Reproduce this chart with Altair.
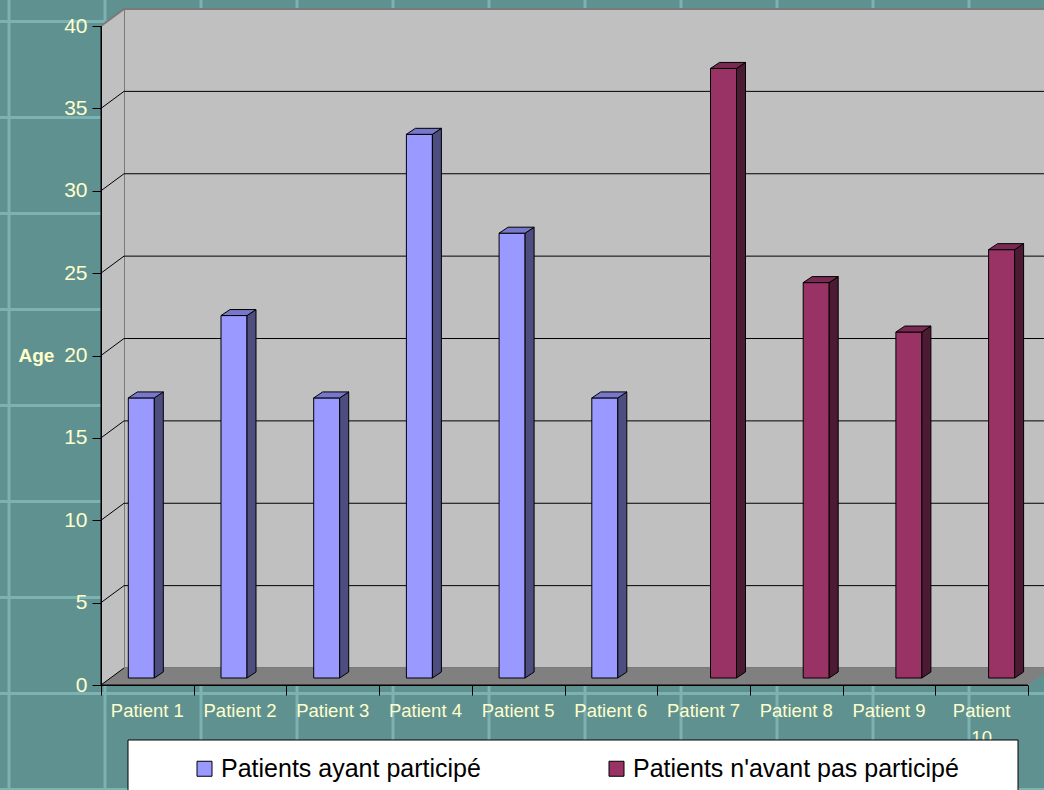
import json
import altair as alt
import pandas as pd

# ---------------- data ----------------
patients = ["Patient 1", "Patient 2", "Patient 3", "Patient 4", "Patient 5",
            "Patient 6", "Patient 7", "Patient 8", "Patient 9", "Patient 10"]
ages = [17, 22, 17, 33, 27, 17, 37, 24, 21, 26]
series_names = ["Patients ayant participé", "Patients n'avant pas participé"]
groups = [series_names[0]] * 6 + [series_names[1]] * 4
y_ticks = [0, 5, 10, 15, 20, 25, 30, 35, 40]
y_max = 40

# ---------------- styles / geometry ----------------
BG = "#5F9191"
PATTERN = "#7DB2B2"
WALL = "#C0C0C0"
FLOOR = "#808080"
EDGE_GRAY = "#7A7A7A"
LABEL = "#FFFFCC"
FRONT = ["#9999FF", "#993366"]
TOP = ["#7777CC", "#7A2952"]
SIDE = ["#4D4D80", "#4D1A33"]
FONT = "Liberation Sans"

CANVAS_W, CANVAS_H = 1044, 790
LEFT, TOPPAD = 101, 26
W, H = 927, 659
n = len(patients)
PX = W / n          # pixels per category unit
PY = H / y_max      # pixels per age unit

WALL_DX, WALL_DY = 23 / PX, 17 / PY
BAR_W = 26 / PX
SLOT = [27.3 / PX, 53.3 / PX]
BAR_DX, BAR_DY = 9 / PX, 6 / PY
BASE = 7 / PY

xs = alt.Scale(domain=[0, n], nice=False, zero=False)
ys = alt.Scale(domain=[0, y_max], nice=False, zero=False)

X_AXIS = alt.Axis(values=list(range(n + 1)), labels=False, title=None,
                  tickSize=10, tickColor="black", domainColor="black",
                  grid=False, zindex=1)
Y_AXIS = alt.Axis(values=y_ticks, labelColor=LABEL, labelFontSize=21,
                  labelFont=FONT, labelPadding=5, tickSize=9,
                  tickColor="black", domainColor="black", grid=False,
                  title="Age", titleAngle=0, titleX=-65, titleY=329,
                  titleAlign="center", titleBaseline="middle",
                  titleFontWeight="bold", titleFontSize=19,
                  titleColor=LABEL, titleFont=FONT, zindex=1)

# ---------------- derived tables ----------------
front_rows, side_rows, top_rows = [], [], []
for i, (p, a, g) in enumerate(zip(patients, ages, groups)):
    s = series_names.index(g)
    x0 = i + SLOT[s]
    x1 = x0 + BAR_W
    y0 = BASE
    y1 = BASE + a
    front_rows.append(dict(patient=p, series=g, age=a, x0=x0, x1=x1, y0=y0, y1=y1))
    side_rows += [dict(bar=p, series=g, x=x1, lo=y0, hi=y1),
                  dict(bar=p, series=g, x=x1 + BAR_DX, lo=y0 + BAR_DY, hi=y1 + BAR_DY)]
    top_rows += [dict(bar=p, series=g, y=y1, l=x0, r=x1),
                 dict(bar=p, series=g, y=y1 + BAR_DY, l=x0 + BAR_DX, r=x1 + BAR_DX)]
front_df = pd.DataFrame(front_rows)
side_df = pd.DataFrame(side_rows)
top_df = pd.DataFrame(top_rows)

label_df = pd.DataFrame({
    "xc": [i + 0.5 for i in range(n)],
    "label": [p.replace(" ", "\n") if len(p) > 9 else p for p in patients],
})

# background pattern (in data units so it passes through the scales)
pat_v = pd.DataFrame({"x": [(9 + 96 * k - LEFT) / PX for k in range(11)]})
pat_h = pd.DataFrame({"y": [(TOPPAD + H - (21.5 + 96 * k)) / PY for k in range(9)]})

back_wall = pd.DataFrame([dict(x=WALL_DX, x2=n + WALL_DX, y=WALL_DY, y2=y_max + WALL_DY)])
left_wall = pd.DataFrame([dict(x=0, lo=0, hi=y_max),
                          dict(x=WALL_DX, lo=WALL_DY, hi=y_max + WALL_DY)])
floor = pd.DataFrame([dict(y=0, l=0, r=n),
                      dict(y=WALL_DY, l=WALL_DX, r=n + WALL_DX)])

black_lines = []
for v in y_ticks[1:-1]:
    black_lines.append(dict(x=WALL_DX, x2=n + WALL_DX, y=v + WALL_DY, y2=v + WALL_DY))
    black_lines.append(dict(x=0, x2=WALL_DX, y=v, y2=v + WALL_DY))
black_lines.append(dict(x=0, x2=WALL_DX, y=0, y2=WALL_DY))
black_lines.append(dict(x=0, x2=n, y=0, y2=0))
black_lines.append(dict(x=0, x2=0, y=0, y2=y_max))
black_df = pd.DataFrame(black_lines)
gray_df = pd.DataFrame([dict(x=0, x2=WALL_DX, y=y_max, y2=y_max + WALL_DY)])

# ---------------- layers ----------------
pv = alt.Chart(pat_v).mark_rule(color=PATTERN, strokeWidth=3).encode(
    x=alt.X("x:Q", scale=xs, axis=X_AXIS),
    y=alt.value(-TOPPAD), y2=alt.value(CANVAS_H - TOPPAD))
ph = alt.Chart(pat_h).mark_rule(color=PATTERN, strokeWidth=3).encode(
    y=alt.Y("y:Q", scale=ys, axis=Y_AXIS),
    x=alt.value(-LEFT), x2=alt.value(CANVAS_W - LEFT))

bw = alt.Chart(back_wall).mark_rect(fill=WALL, stroke=EDGE_GRAY, strokeWidth=2).encode(
    x=alt.X("x:Q", scale=xs, axis=X_AXIS), x2="x2:Q",
    y=alt.Y("y:Q", scale=ys, axis=Y_AXIS), y2="y2:Q")
lw = alt.Chart(left_wall).mark_area(fill=WALL, opacity=1).encode(
    x=alt.X("x:Q", scale=xs, axis=X_AXIS),
    y=alt.Y("lo:Q", scale=ys, axis=Y_AXIS, stack=None), y2="hi:Q")
fl = alt.Chart(floor).mark_area(fill=FLOOR, opacity=1, orient="horizontal").encode(
    y=alt.Y("y:Q", scale=ys, axis=Y_AXIS),
    x=alt.X("l:Q", scale=xs, axis=X_AXIS, stack=None), x2="r:Q")

bl = alt.Chart(black_df).mark_rule(color="black", strokeWidth=1).encode(
    x=alt.X("x:Q", scale=xs, axis=X_AXIS), x2="x2:Q",
    y=alt.Y("y:Q", scale=ys, axis=Y_AXIS), y2="y2:Q")
gl = alt.Chart(gray_df).mark_rule(color=EDGE_GRAY, strokeWidth=2).encode(
    x=alt.X("x:Q", scale=xs, axis=X_AXIS), x2="x2:Q",
    y=alt.Y("y:Q", scale=ys, axis=Y_AXIS), y2="y2:Q")

front = alt.Chart(front_df).mark_rect(stroke="black", strokeWidth=1).encode(
    x=alt.X("x0:Q", scale=xs, axis=X_AXIS),
    x2="x1:Q",
    y=alt.Y("y0:Q", scale=ys, axis=Y_AXIS),
    y2="y1:Q",
    color=alt.Color("series:N",
                    scale=alt.Scale(domain=series_names, range=FRONT),
                    legend=alt.Legend(orient="none", legendX=91, legendY=730,
                                      direction="horizontal", title=None,
                                      symbolType="square", symbolSize=225,
                                      symbolStrokeColor="black", symbolStrokeWidth=1,
                                      symbolOpacity=1,
                                      labelFontSize=25, labelColor="black",
                                      labelFont=FONT, labelLimit=600,
                                      labelOffset=4, columnPadding=123,
                                      padding=0)),
)

side = alt.Chart(side_df).mark_area(stroke="black", strokeWidth=1, opacity=1).encode(
    x=alt.X("x:Q", scale=xs, axis=X_AXIS),
    y=alt.Y("lo:Q", scale=ys, axis=Y_AXIS, stack=None), y2="hi:Q",
    detail="bar:N",
    color=alt.Color("series:N", scale=alt.Scale(domain=series_names, range=SIDE),
                    legend=None),
)
top = alt.Chart(top_df).mark_area(stroke="black", strokeWidth=1, opacity=1,
                                  orient="horizontal").encode(
    y=alt.Y("y:Q", scale=ys, axis=Y_AXIS),
    x=alt.X("l:Q", scale=xs, axis=X_AXIS, stack=None), x2="r:Q",
    detail="bar:N",
    color=alt.Color("series:N", scale=alt.Scale(domain=series_names, range=TOP),
                    legend=None),
)

xlabels = alt.Chart(label_df).mark_text(
    baseline="top", align="center", dy=17, fontSize=18.5, font=FONT,
    color=LABEL, lineBreak="\n", lineHeight=27).encode(
    x=alt.X("xc:Q", scale=xs, axis=X_AXIS),
    y=alt.datum(0, scale=ys, axis=Y_AXIS),
    text="label:N")

legend_box = alt.Chart(pd.DataFrame({"k": [0]})).mark_rect(
    fill="white", stroke="black", strokeWidth=1).encode(
    x=alt.value(128 - LEFT), x2=alt.value(1018 - LEFT),
    y=alt.value(740 - TOPPAD), y2=alt.value(CANVAS_H - TOPPAD + 5))

chart = alt.layer(pv, ph, bw, lw, fl, bl, gl, front, side, top, xlabels,
                  legend_box).resolve_scale(
    color="independent"
).properties(
    width=W, height=H,
    padding={"left": LEFT, "top": TOPPAD, "right": CANVAS_W - LEFT - W,
             "bottom": CANVAS_H - TOPPAD - H},
    autosize=alt.AutoSizeParams(type="none"),
    background=BG,
).configure_view(stroke=None).configure(font=FONT)

chart.save("out.html", embed_options={"renderer": "svg", "actions": False})
